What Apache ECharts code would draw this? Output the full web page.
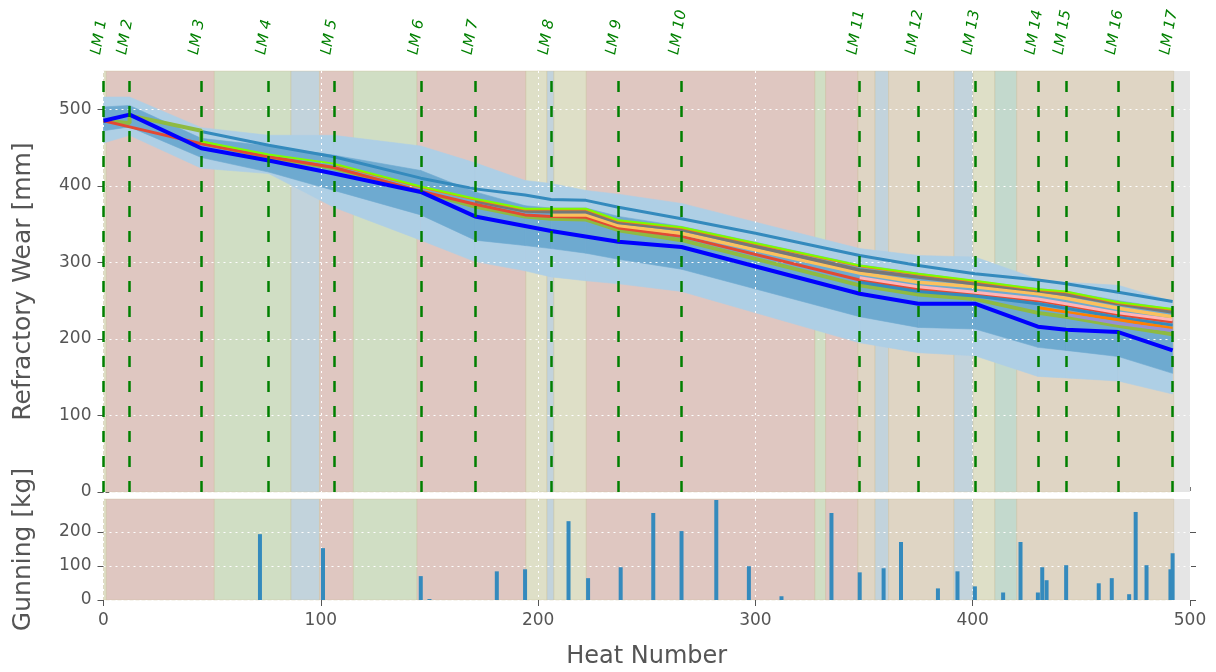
<!DOCTYPE html>
<html>
<head>
<meta charset="utf-8">
<title>Refractory wear</title>
<script src="https://cdn.jsdelivr.net/npm/echarts@6/dist/echarts.min.js"></script>
<style>
html, body { margin: 0; padding: 0; background: #fff; }
#main { width: 1216px; height: 672px; }
</style>
</head>
<body>
<div id="main"></div>
<script>
// laser measurements
var lmHeats = [0, 12, 45, 76, 106, 146, 171, 206, 237, 266, 348, 375, 401, 430, 443, 467, 492];
var lmNames = ['LM 1', 'LM 2', 'LM 3', 'LM 4', 'LM 5', 'LM 6', 'LM 7', 'LM 8', 'LM 9',
    'LM 10', 'LM 11', 'LM 12', 'LM 13', 'LM 14', 'LM 15', 'LM 16', 'LM 17'];
var tickHeats = [0, 100, 200, 300, 400, 500];
var wearTicks = [0, 100, 200, 300, 400, 500];
var gunTicks = [0, 100, 200];

// background phases
var phaseStart = [0, 1.3, 51, 86.3, 99.4, 115, 144.3, 194.4, 204.1, 207.3, 222.2, 327.4, 332.3, 347.2, 355.1, 361.3, 391.4, 400.2, 410.2, 420.3];
var phaseEnd = [1.3, 51, 86.3, 99.4, 115, 144.3, 194.4, 204.1, 207.3, 222.2, 327.4, 332.3, 347.2, 355.1, 361.3, 391.4, 400.2, 410.2, 420.3, 492.5];
var phaseKind = ['yellow', 'red', 'green', 'blue', 'red', 'green', 'red', 'yellow', 'blue', 'yellow',
    'red', 'green', 'red', 'tan', 'blue', 'tan', 'blue', 'yellow', 'teal', 'tan'];

// measured wear (thick blue)
var blueWear = [485, 493, 449, 433, 416, 392, 360, 341, 327, 320, 259, 246, 246, 216, 212, 209, 185];

// spread bands
var bandHeats = [0, 12, 45, 76, 106, 146, 171, 194, 206, 222, 237, 266, 348, 375, 401, 430, 443, 467, 492];
var outerTop = [516, 516, 476, 466, 466, 452, 430, 407, 403, 394, 389, 377, 318, 309, 307, 278, 274, 270, 249];
var outerBot = [456, 466, 423, 416, 372, 329, 301, 289, 281, 276, 272, 262, 195, 182, 178, 151, 149, 145, 128];
var innerTop = [503, 505, 462, 452, 440, 420, 392, 374, 371, 371, 360, 347, 297, 286, 276, 266, 262, 250, 239];
var innerBot = [472, 477, 437, 418, 394, 362, 329, 322, 318, 312, 304, 291, 229, 215, 213, 189, 185, 177, 155];

// model predictions [heat, wear]
var wearSteel = [[45, 471], [76, 453], [106, 438], [146, 410], [171, 396], [194, 388], [206, 382], [222, 381], [237, 372], [266, 357], [300, 338], [348, 309], [375, 296], [401, 285], [430, 277], [443, 272], [467, 261], [492, 249]];
var wearOlive = [[0, 485], [12, 482], [12, 492], [45, 472], [45, 457], [76, 437], [106, 423], [146, 392], [171, 373], [194, 360], [206, 357], [222, 356], [237, 342], [266, 329], [348, 270], [375, 258], [401, 252], [430, 234], [443, 229], [467, 217], [492, 206]];
var wearRed = [[0, 485], [12, 477], [45, 455], [76, 438], [106, 424], [146, 393], [171, 376], [194, 362], [206, 360], [222, 359], [237, 345], [266, 334], [348, 277], [375, 265], [401, 259], [430, 250], [443, 244], [467, 232], [492, 222]];
var wearPink = [[348, 280], [375, 268], [401, 261], [430, 252], [443, 246], [467, 234], [492, 225]];
var wearYellow = [[206, 362], [222, 362], [237, 348], [266, 338], [348, 286], [375, 274], [401, 268], [430, 259], [443, 253], [467, 240], [492, 229]];
var wearGrey = [[171, 380], [194, 367], [206, 366], [222, 366], [237, 352], [266, 343], [348, 290], [375, 281], [401, 272], [430, 263], [443, 258], [467, 246], [492, 235]];
var wearOrange = [[106, 428], [146, 398], [171, 382], [194, 369], [206, 369], [222, 369], [237, 354], [266, 345], [348, 295], [375, 284], [401, 275], [430, 264], [443, 261], [467, 247], [492, 238]];
var wearLime = [[45, 458], [76, 441], [106, 429], [146, 399], [171, 383], [194, 370], [206, 370], [222, 370], [237, 355], [266, 346], [348, 296], [375, 285], [401, 276], [430, 265], [443, 262], [467, 248], [492, 239]];
var wearTeal = [[348, 274], [375, 262], [401, 256], [430, 246], [443, 240], [467, 228], [492, 218]];
var wearOrange2 = [[430, 241], [443, 235], [467, 225], [492, 214]];
var wearPurple = [[443, 232], [467, 220], [492, 211]];

// gunning
var gunHeat = [72, 101, 146, 150, 181, 194, 214, 223, 238, 253, 266, 282, 297, 312, 335, 348, 359, 367, 384, 393, 401, 414, 422, 430, 432, 434, 443, 458, 464, 472, 475, 480, 491, 492];
var gunKg = [193, 152, 70, 3, 84, 90, 231, 64, 96, 255, 202, 293, 99, 11, 255, 81, 93, 170, 34, 84, 40, 22, 170, 22, 96, 58, 102, 49, 64, 17, 258, 102, 90, 137];

var phaseColors = {
    red: '#dfc7c1',
    green: '#d0dec4',
    blue: '#c2d3dc',
    yellow: '#dedfc7',
    tan: '#dfd5c4',
    teal: '#c3d9cd'
};

var FONT = 'DejaVu Sans';
var gridLine = { show: true, lineStyle: { color: '#ffffff', width: 1, type: [2, 4] } };

function zip(xs, ys) {
    return xs.map(function (x, i) { return [x, ys[i]]; });
}

function renderPhase(params, api) {
    var x0 = api.coord([api.value(0), 0])[0];
    var x1 = api.coord([api.value(1), 0])[0];
    var cs = params.coordSys;
    return {
        type: 'rect',
        shape: { x: x0, y: cs.y, width: x1 - x0, height: cs.height },
        style: { fill: phaseColors[phaseKind[params.dataIndex]], stroke: 'rgba(200,190,150,0.35)', lineWidth: 1 }
    };
}

function phaseSeries(gridIdx) {
    return {
        type: 'custom',
        xAxisIndex: gridIdx,
        yAxisIndex: gridIdx,
        z: 0.5,
        silent: true,
        renderItem: renderPhase,
        encode: { x: [0, 1] },
        data: phaseStart.map(function (s, i) { return [s, phaseEnd[i]]; })
    };
}

// one polygon piece per pair of neighbouring band points
function bandSeries(lower, upper, color) {
    var pieces = [];
    for (var i = 0; i < bandHeats.length - 1; i++) {
        pieces.push([bandHeats[i], lower[i], upper[i], bandHeats[i + 1], lower[i + 1], upper[i + 1]]);
    }
    return {
        type: 'custom',
        xAxisIndex: 0,
        yAxisIndex: 0,
        z: 1,
        silent: true,
        encode: { x: [0, 3], y: [1, 2, 4, 5] },
        data: pieces,
        renderItem: function (params, api) {
            var pts = [
                api.coord([api.value(0), api.value(1)]),
                api.coord([api.value(0), api.value(2)]),
                api.coord([api.value(3), api.value(5)]),
                api.coord([api.value(3), api.value(4)])
            ];
            return {
                type: 'polygon',
                shape: { points: pts },
                style: { fill: color, stroke: color, lineWidth: 0.6 }
            };
        }
    };
}

function wearLine(data, color, width) {
    return {
        type: 'line',
        xAxisIndex: 0,
        yAxisIndex: 0,
        data: data,
        showSymbol: false,
        z: 3,
        lineStyle: { color: color, width: width },
        silent: true
    };
}

var series = [
    phaseSeries(0),
    phaseSeries(1),
    bandSeries(outerBot, outerTop, '#aecfe5'),
    bandSeries(innerBot, innerTop, '#6eaad0'),
    wearLine(wearSteel, '#348abd', 3),
    wearLine(wearOlive, '#8eba42', 4),
    wearLine(wearRed, '#e24a33', 3),
    wearLine(wearPink, '#ffb5b8', 3),
    wearLine(wearYellow, '#fbc15e', 3.5),
    wearLine(wearTeal, '#348abd', 3),
    wearLine(wearOrange2, '#ff8000', 3),
    wearLine(wearPurple, '#988ed5', 3),
    wearLine(wearGrey, '#777777', 3.5),
    wearLine(wearOrange, '#ff7f0e', 2),
    wearLine(wearLime, '#7cfc00', 2)
];

var blueSeries = wearLine(zip(lmHeats, blueWear), '#0000ff', 4);
blueSeries.z = 4;
blueSeries.markLine = {
    silent: true,
    symbol: 'none',
    label: { show: false },
    lineStyle: { color: '#008000', width: 2.5, type: [11, 14] },
    data: lmHeats.map(function (h) { return { xAxis: h }; })
};
series.push(blueSeries);

series.push({
    type: 'bar',
    xAxisIndex: 1,
    yAxisIndex: 1,
    data: zip(gunHeat, gunKg),
    barWidth: 4,
    z: 3,
    silent: true,
    itemStyle: { color: '#348abd' }
});

var myChart = echarts.init(document.getElementById('main'));
var option = {
    animation: false,
    backgroundColor: '#ffffff',
    textStyle: { fontFamily: FONT },
    grid: [
        { left: 103.5, right: 26, top: 71, height: 421, show: true, backgroundColor: '#e5e5e5', borderWidth: 0 },
        { left: 103.5, right: 26, top: 499, height: 101, show: true, backgroundColor: '#e5e5e5', borderWidth: 0 }
    ],
    xAxis: [
        {
            type: 'value', gridIndex: 0, min: 0, max: 500, interval: 100, z: 2,
            axisLine: { show: false }, axisTick: { show: false }, axisLabel: { show: false },
            splitLine: gridLine
        },
        {
            type: 'value', gridIndex: 1, min: 0, max: 500, interval: 100, z: 2,
            name: 'Heat Number', nameLocation: 'middle', nameGap: 45,
            nameTextStyle: { color: '#555555', fontSize: 24, fontFamily: FONT },
            axisLine: { show: false },
            axisTick: { show: true, length: 6, lineStyle: { color: '#555555' } },
            axisLabel: { color: '#555555', fontSize: 17, margin: 12, fontFamily: FONT },
            splitLine: gridLine
        },
        {
            type: 'value', gridIndex: 0, position: 'top', min: 0, max: 500,
            axisLine: { show: false },
            axisTick: { show: true, length: 7, customValues: tickHeats, lineStyle: { color: '#777777' } },
            axisLabel: {
                customValues: lmHeats,
                formatter: function (v) {
                    var i = lmHeats.indexOf(v);
                    return i >= 0 ? lmNames[i] : '';
                },
                rotate: 80, margin: 15, color: '#008000', fontSize: 15,
                verticalAlign: 'bottom', padding: [0, 0, 0, 0],
                fontStyle: 'italic', fontFamily: FONT
            },
            splitLine: { show: false }
        }
    ],
    yAxis: [
        {
            type: 'value', gridIndex: 0, min: 0, max: 550, interval: 100, z: 2,
            name: 'Refractory Wear [mm]', nameLocation: 'middle', nameGap: 68,
            nameTextStyle: { color: '#555555', fontSize: 25, fontFamily: FONT },
            axisLine: { show: false },
            axisTick: { show: true, length: 6, customValues: wearTicks, lineStyle: { color: '#555555' } },
            axisLabel: { color: '#555555', fontSize: 17, margin: 12, customValues: wearTicks, fontFamily: FONT },
            splitLine: gridLine
        },
        {
            type: 'value', gridIndex: 1, min: 0, max: 296, interval: 100, z: 2,
            name: 'Gunning [kg]', nameLocation: 'middle', nameGap: 68,
            nameTextStyle: { color: '#555555', fontSize: 25, fontFamily: FONT },
            axisLine: { show: false },
            axisTick: { show: true, length: 6, customValues: gunTicks, lineStyle: { color: '#555555' } },
            axisLabel: { color: '#555555', fontSize: 17, margin: 12, customValues: gunTicks, fontFamily: FONT },
            splitLine: gridLine
        },
        {
            type: 'value', gridIndex: 0, position: 'right', min: 0, max: 550,
            axisLine: { show: false }, axisLabel: { show: false }, splitLine: { show: false },
            axisTick: { show: true, length: 6, customValues: wearTicks, lineStyle: { color: '#555555' } }
        },
        {
            type: 'value', gridIndex: 1, position: 'right', min: 0, max: 296,
            axisLine: { show: false }, axisLabel: { show: false }, splitLine: { show: false },
            axisTick: { show: true, length: 6, customValues: gunTicks, lineStyle: { color: '#555555' } }
        }
    ],
    series: series
};
myChart.setOption(option);
</script>
</body>
</html>
